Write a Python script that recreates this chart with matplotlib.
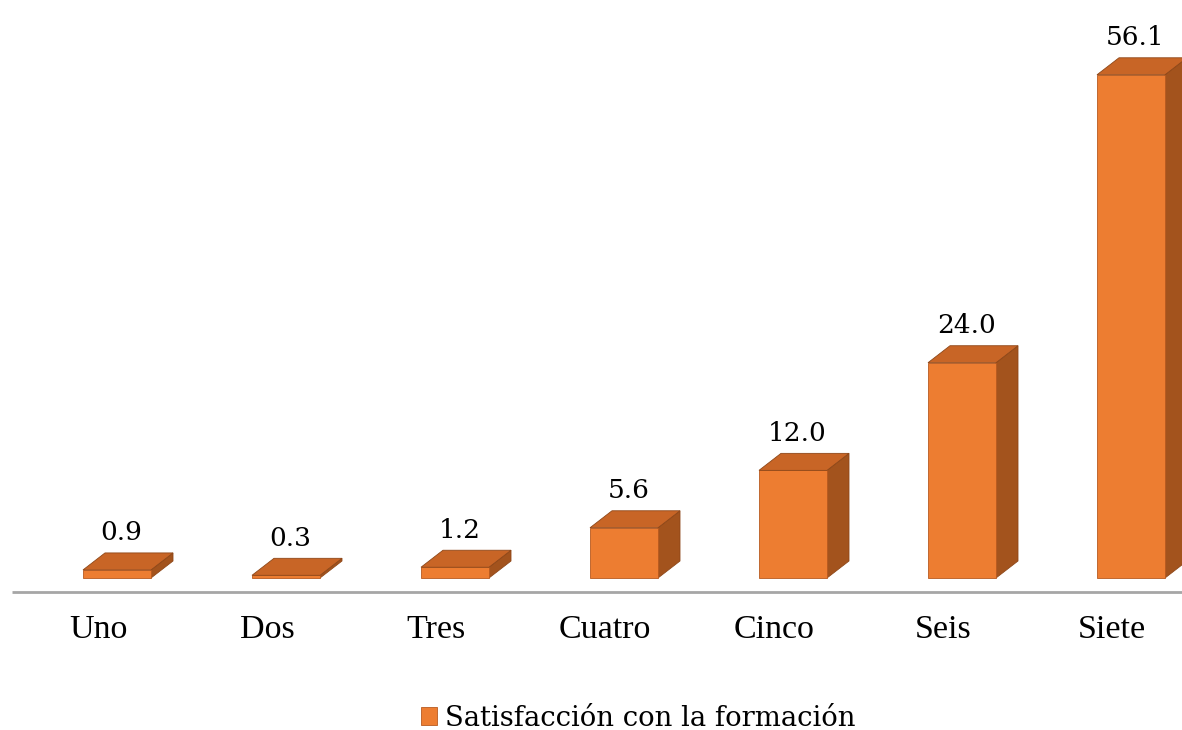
import matplotlib.pyplot as plt
from matplotlib.patches import Polygon

plt.rcParams["font.family"] = ["DejaVu Serif"]

categories = ['Uno', 'Dos', 'Tres', 'Cuatro', 'Cinco', 'Seis', 'Siete']
values = [0.9, 0.3, 1.2, 5.6, 12.0, 24.0, 56.1]
value_labels = ['0.9', '0.3', '1.2', '5.6', '12.0', '24.0', '56.1']
series_name = 'Satisfacción con la formación'

front_col = '#ED7D31'
top_col = '#C86526'
side_col = '#A3531D'

# pixel geometry of the reference -> data units
px_x = 169.0          # pixels per category
px_y = 8.97           # pixels per unit value
x0_px = 98.0          # label centre of first category
y0_px = 152.0         # distance of value 0 from bottom edge

W, H = 1182, 730
fig = plt.figure(figsize=(W / 100, H / 100), dpi=100)
ax = fig.add_axes([0, 0, 1, 1])
ax.set_xlim(-x0_px / px_x, (W - x0_px) / px_x)
ax.set_ylim(-y0_px / px_y, (H - y0_px) / px_y)
ax.axis('off')

shift = 19 / px_x     # front face sits right of the category centre
bw = 68 / px_x
dx = 22 / px_x
dy = 17 / px_y

xs = [i + shift for i in range(len(categories))]
bars = ax.bar(xs, values, width=bw, color=front_col, edgecolor='#B85A20',
              linewidth=0.6, label=series_name, zorder=3)

for x, v, lab in zip(xs, values, value_labels):
    l, r = x - bw / 2, x + bw / 2
    top = Polygon([(l, v), (r, v), (r + dx, v + dy), (l + dx, v + dy)],
                  closed=True, facecolor=top_col, edgecolor='#8E4718', linewidth=0.6, zorder=3)
    side = Polygon([(r, 0), (r + dx, dy), (r + dx, v + dy), (r, v)],
                   closed=True, facecolor=side_col, edgecolor='#8E4718', linewidth=0.6, zorder=2)
    ax.add_patch(top)
    ax.add_patch(side)
    ax.annotate(lab, (x + dx * 0.2, v + dy), xytext=(0, 9), textcoords='offset points',
                ha='center', va='baseline', fontsize=19, color='black')

# floor line
ax.plot([(12 - x0_px) / px_x, (W - x0_px) / px_x], [-14 / px_y, -14 / px_y],
        color='#A6A6A6', linewidth=2, zorder=1, solid_capstyle='butt')

for i, c in enumerate(categories):
    ax.text(i, -52 / px_y, c, ha='center', va='center', fontsize=24.5,
            family='Liberation Serif', color='black')

ax.legend(handles=[bars], loc='lower center', bbox_to_anchor=(0.54, -0.036), frameon=False,
          fontsize=19.8, handlelength=0.6, handleheight=0.6, handletextpad=0.3)

fig.savefig('out.png', dpi=100)
